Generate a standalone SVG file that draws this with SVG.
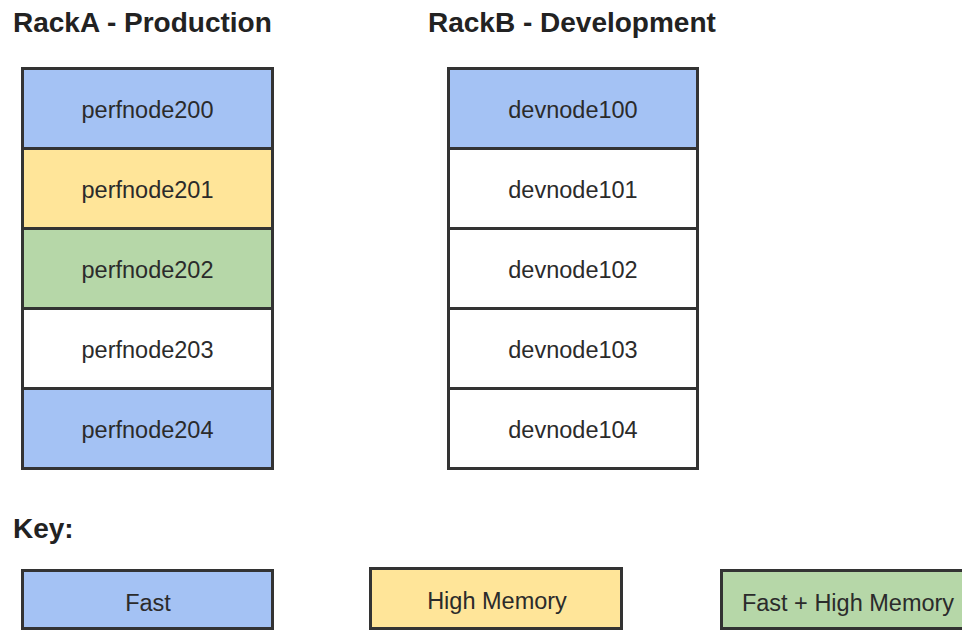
<svg xmlns="http://www.w3.org/2000/svg" width="962" height="630" viewBox="0 0 962 630">
<style>
.cell{stroke:#333;stroke-width:3}
.fast{fill:#a4c2f4}
.mem{fill:#ffe599}
.both{fill:#b6d7a8}
.plain{fill:#ffffff}
.lbl{font-family:"Liberation Sans",Arial,sans-serif;font-size:23.5px;fill:#2b2b2b;text-anchor:middle}
.ttl{font-family:"Liberation Sans",Arial,sans-serif;font-size:28px;font-weight:bold;fill:#222}
</style>
<rect width="962" height="630" fill="#ffffff"/>
<text class="ttl" x="13" y="32">RackA - Production</text>
<text class="ttl" x="428" y="32">RackB - Development</text>
<g id="rackA">
<g id="perfnode200"><rect class="cell fast" x="22.5" y="68.5" width="250" height="80"/><text class="lbl" x="147.5" y="118">perfnode200</text></g>
<g id="perfnode201"><rect class="cell mem" x="22.5" y="148.5" width="250" height="80"/><text class="lbl" x="147.5" y="198">perfnode201</text></g>
<g id="perfnode202"><rect class="cell both" x="22.5" y="228.5" width="250" height="80"/><text class="lbl" x="147.5" y="278">perfnode202</text></g>
<g id="perfnode203"><rect class="cell plain" x="22.5" y="308.5" width="250" height="80"/><text class="lbl" x="147.5" y="358">perfnode203</text></g>
<g id="perfnode204"><rect class="cell fast" x="22.5" y="388.5" width="250" height="80"/><text class="lbl" x="147.5" y="438">perfnode204</text></g>
</g>
<g id="rackB">
<g id="devnode100"><rect class="cell fast" x="448.5" y="68.5" width="249" height="80"/><text class="lbl" x="573" y="118">devnode100</text></g>
<g id="devnode101"><rect class="cell plain" x="448.5" y="148.5" width="249" height="80"/><text class="lbl" x="573" y="198">devnode101</text></g>
<g id="devnode102"><rect class="cell plain" x="448.5" y="228.5" width="249" height="80"/><text class="lbl" x="573" y="278">devnode102</text></g>
<g id="devnode103"><rect class="cell plain" x="448.5" y="308.5" width="249" height="80"/><text class="lbl" x="573" y="358">devnode103</text></g>
<g id="devnode104"><rect class="cell plain" x="448.5" y="388.5" width="249" height="80"/><text class="lbl" x="573" y="438">devnode104</text></g>
</g>
<g id="connectors"></g>
<text class="ttl" x="13" y="538">Key:</text>
<g id="key-fast"><rect class="cell fast" x="22.5" y="570.5" width="250" height="58"/><text class="lbl" x="148" y="611">Fast</text></g>
<g id="key-mem"><rect class="cell mem" x="370.5" y="568.5" width="251" height="60"/><text class="lbl" x="497" y="609">High Memory</text></g>
<g id="key-both"><rect class="cell both" x="721.5" y="570.5" width="250" height="58"/><text class="lbl" x="848" y="611">Fast + High Memory</text></g>
</svg>
